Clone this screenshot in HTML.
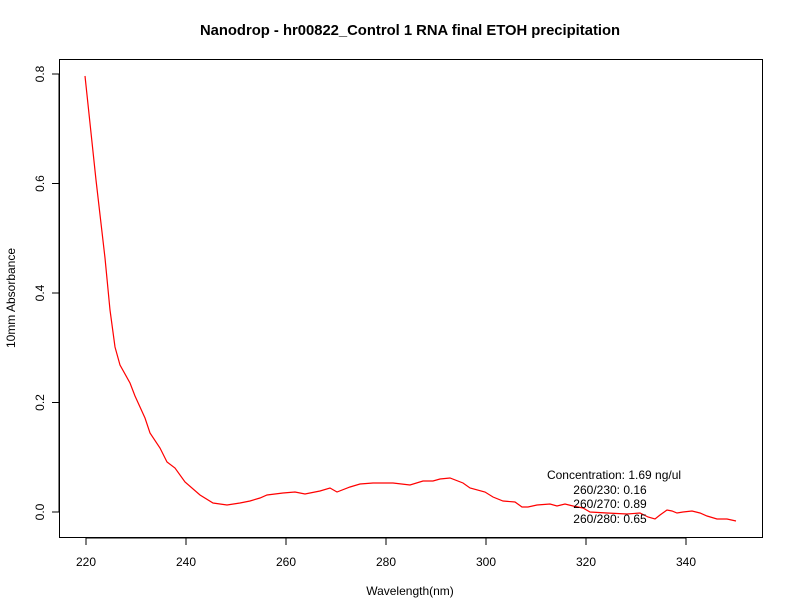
<!DOCTYPE html>
<html><head><meta charset="utf-8"><style>body{margin:0;background:#fff}svg{display:block}text{font-family:"Liberation Sans",sans-serif}</style></head>
<body>
<svg width="792" height="612" viewBox="0 0 792 612" xmlns="http://www.w3.org/2000/svg">
<rect width="792" height="612" fill="#fff"/>
<text x="410" y="35" font-size="14.8" font-weight="bold" text-anchor="middle">Nanodrop - hr00822_Control 1 RNA final ETOH precipitation</text>
<rect x="59.5" y="59.5" width="703" height="478" fill="none" stroke="#000"/>
<g stroke="#000">
<line x1="86" y1="538" x2="686" y2="538"/>
<line x1="86" y1="538" x2="86" y2="545"/><line x1="186" y1="538" x2="186" y2="545"/><line x1="286" y1="538" x2="286" y2="545"/><line x1="386" y1="538" x2="386" y2="545"/><line x1="486" y1="538" x2="486" y2="545"/><line x1="586" y1="538" x2="586" y2="545"/><line x1="686" y1="538" x2="686" y2="545"/>
<line x1="59" y1="74" x2="59" y2="512"/>
<line x1="52" y1="512" x2="59" y2="512"/><line x1="52" y1="402.5" x2="59" y2="402.5"/><line x1="52" y1="293" x2="59" y2="293"/><line x1="52" y1="183.5" x2="59" y2="183.5"/><line x1="52" y1="74" x2="59" y2="74"/>
</g>
<g font-size="12" text-anchor="middle">
<text x="86" y="566">220</text><text x="186" y="566">240</text><text x="286" y="566">260</text><text x="386" y="566">280</text><text x="486" y="566">300</text><text x="586" y="566">320</text><text x="686" y="566">340</text>
<text x="410" y="595">Wavelength(nm)</text>
<g transform="rotate(-90)">
<text x="-512" y="44">0.0</text><text x="-402.5" y="44">0.2</text><text x="-293" y="44">0.4</text><text x="-183.5" y="44">0.6</text><text x="-74" y="44">0.8</text>
<text x="-298" y="15">10mm Absorbance</text>
</g>
</g>
<polyline fill="none" stroke="#f00" stroke-width="1.2" points="85,76 96,180 105,258 110,310 115,347 120,365 130,383 135,396 145,418 150,433 160,448 167,462 175,468 185,482 200,495 213,503 227,505 240,503 250,501 260,498 267,495 283,493 295,492 305,494 320,491 330,488 337,492 350,487 360,484 373,483 393,483 410,485 423,481 433,481 440,479 450,478 463,483 470,488 485,492 493,497 503,501 515,502 522,507 528,507 537,505 550,504 557,506 565,504 573,506 583,508 590,512 607,513 627,514 640,513 648,517 655,519 660,515 667,510 672,511 677,513 683,512 692,511 700,513 707,516 717,519 727,519 736,521"/>
<g font-size="12" text-anchor="middle">
<text x="614" y="479">Concentration: 1.69 ng/ul</text>
<text x="610" y="494">260/230: 0.16</text>
<text x="610" y="508">260/270: 0.89</text>
<text x="610" y="523">260/280: 0.65</text>
</g>
</svg>
</body></html>
